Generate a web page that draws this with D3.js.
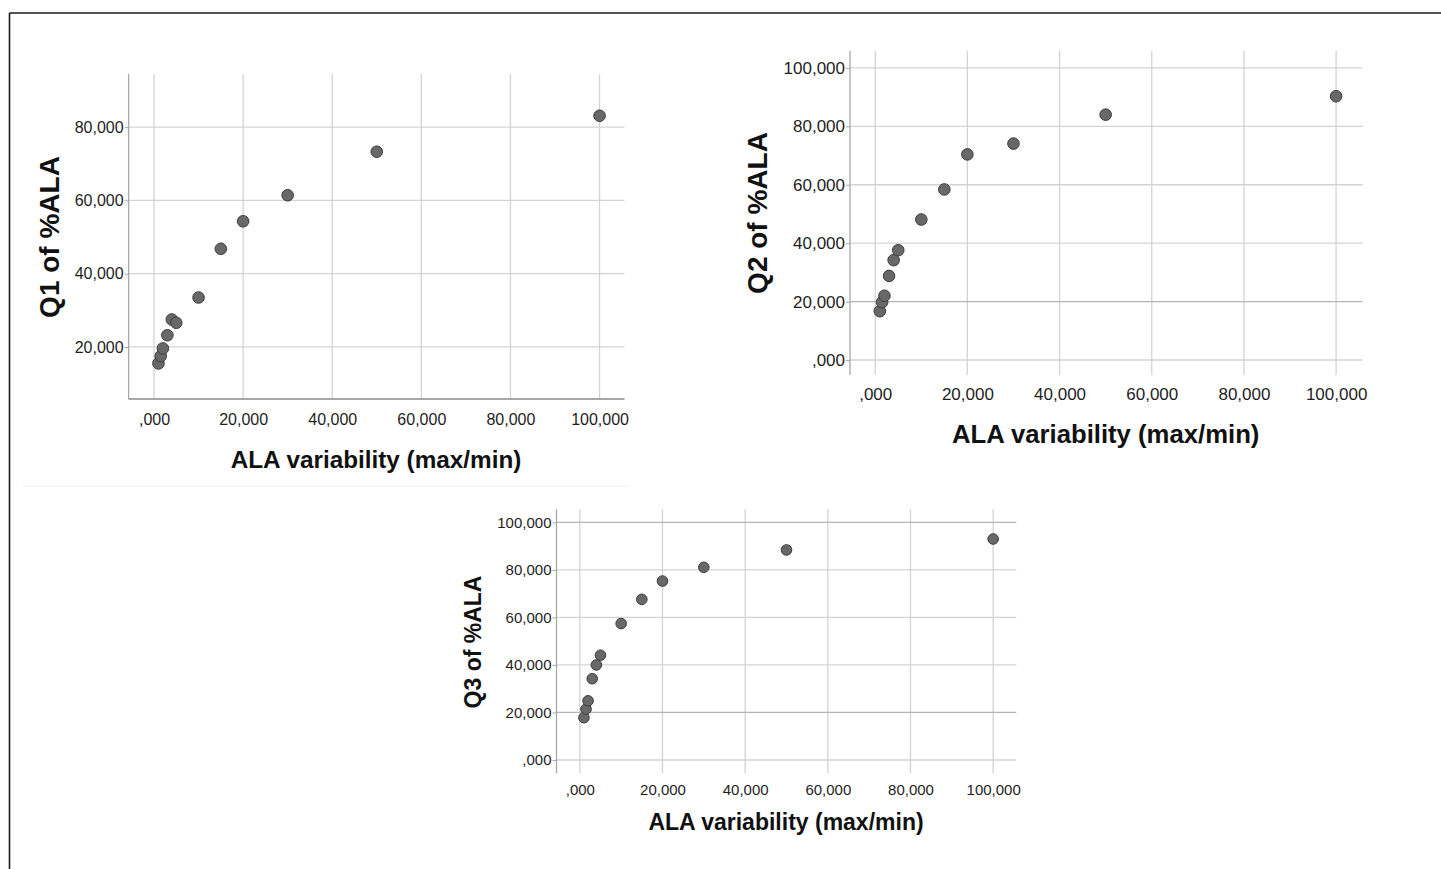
<!DOCTYPE html>
<html>
<head>
<meta charset="utf-8">
<script src="https://cdn.jsdelivr.net/npm/d3@7"></script>
<style>
  body { margin: 0; background: #fff; }
  svg { display: block; }
  text { font-family: "Liberation Sans", Arial, sans-serif; }
</style>
</head>
<body>
<svg id="chart" width="1441" height="869"></svg>
<script>
// ALA variability (max/min) and the three quantiles of %ALA
var variability = [1, 1.5, 2, 3, 4, 5, 10, 15, 20, 30, 50, 100];
var q1 = [15.5, 17.5, 19.6, 23.2, 27.5, 26.6, 33.5, 46.8, 54.3, 61.4, 73.3, 83.1];
var q2 = [16.7, 19.8, 22.0, 28.8, 34.2, 37.6, 48.1, 58.4, 70.4, 74.1, 84.0, 90.3];
var q3 = [17.8, 21.4, 24.9, 34.2, 40.0, 44.1, 57.4, 67.6, 75.3, 81.1, 88.4, 93.0];

var xTicks = [0, 20, 40, 60, 80, 100];
var q1Ticks = [20, 40, 60, 80];
var q2Ticks = [0, 20, 40, 60, 80, 100];
var q3Ticks = [0, 20, 40, 60, 80, 100];

var xTitle = "ALA variability (max/min)";

// SPSS style numbers: ",000", "20,000"
function fmt(v) {
  return v === 0 ? ",000" : v.toFixed(3).replace(".", ",");
}

var svg = d3.select("#chart");

// frame (left and top only)
svg.append("line").attr("x1", 9.5).attr("y1", 13).attr("x2", 1441).attr("y2", 13)
  .attr("stroke", "#1a1a1a").attr("stroke-width", 1.6);
svg.append("line").attr("x1", 9.5).attr("y1", 13).attr("x2", 9.5).attr("y2", 869)
  .attr("stroke", "#1a1a1a").attr("stroke-width", 1.6);

// faint edge under the first panel
svg.append("line").attr("x1", 22).attr("y1", 486).attr("x2", 630).attr("y2", 486)
  .attr("stroke", "#f2f2f2").attr("stroke-width", 1);

var panels = [
  { vals: q1, yTicks: q1Ticks, label: "Q1 of %ALA",
    left: 128.6, right: 624.5, bottom: 399, top: 74,
    xDom: [-5.7, 105.6], yDom: [5.8, 94.5],
    tickFont: 16, xLabelY: 425, xTitleFont: 24.3, xTitleX: 376, xTitleY: 468,
    yTitleFont: 28, yTitleX: 49, yTitleY: 237, r: 5.8, xAxisLine: true, dark: [] },
  { vals: q2, yTicks: q2Ticks, label: "Q2 of %ALA",
    left: 850, right: 1362.6, bottom: 375, top: 50.7,
    xDom: [-5.47, 105.75], yDom: [-5.13, 105.9],
    tickFont: 17, xLabelY: 400, xTitleFont: 25.7, xTitleX: 1105.7, xTitleY: 443,
    yTitleFont: 28, yTitleX: 757, yTitleY: 213, r: 5.8, xAxisLine: false, dark: [20] },
  { vals: q3, yTicks: q3Ticks, label: "Q3 of %ALA",
    left: 556.5, right: 1016.3, bottom: 773.3, top: 509.3,
    xDom: [-5.64, 105.6], yDom: [-5.6, 105.5],
    tickFont: 15, xLabelY: 795, xTitleFont: 23, xTitleX: 786, xTitleY: 830,
    yTitleFont: 23, yTitleX: 473, yTitleY: 642, r: 5.3, xAxisLine: false, dark: [20, 100] }
];

panels.forEach(function(p) {
  var x = d3.scaleLinear().domain(p.xDom).range([p.left, p.right]);
  var y = d3.scaleLinear().domain(p.yDom).range([p.bottom, p.top]);
  var g = svg.append("g");

  // grid
  g.selectAll(".vgrid").data(xTicks).enter().append("line")
    .attr("x1", function(d) { return x(d); }).attr("x2", function(d) { return x(d); })
    .attr("y1", p.top).attr("y2", p.bottom)
    .attr("stroke", "#d3d3d3").attr("stroke-width", 1.3);
  g.selectAll(".hgrid").data(p.yTicks).enter().append("line")
    .attr("x1", p.left).attr("x2", p.right)
    .attr("y1", function(d) { return y(d); }).attr("y2", function(d) { return y(d); })
    .attr("stroke", function(d) { return p.dark.indexOf(d) >= 0 ? "#b4b4b4" : "#d3d3d3"; })
    .attr("stroke-width", 1.3);

  // y axis
  var ya = g.append("g").attr("transform", "translate(" + p.left + ",0)")
    .call(d3.axisLeft(y).tickValues(p.yTicks).tickFormat(fmt).tickSize(4).tickPadding(1).tickSizeOuter(0));
  ya.select(".domain").attr("stroke", "#a8a8a8").attr("stroke-width", 1.3)
    .attr("d", "M0," + p.top + "V" + p.bottom);
  ya.selectAll(".tick line").attr("stroke", "#a8a8a8");
  ya.selectAll("text").attr("font-size", p.tickFont).attr("fill", "#1e1e1e")
    .attr("font-family", "'Liberation Sans', Arial, sans-serif");

  // x axis labels
  var xa = g.append("g").attr("transform", "translate(0," + p.bottom + ")")
    .call(d3.axisBottom(x).tickValues(xTicks).tickFormat(fmt).tickSize(0).tickSizeOuter(0));
  if (p.xAxisLine) {
    xa.select(".domain").attr("stroke", "#8a8a8a").attr("stroke-width", 1.5)
      .attr("d", "M" + p.left + ",0H" + p.right);
  } else {
    xa.select(".domain").remove();
  }
  xa.selectAll("text").attr("font-size", p.tickFont).attr("fill", "#1e1e1e")
    .attr("font-family", "'Liberation Sans', Arial, sans-serif")
    .attr("dy", null).attr("y", p.xLabelY - p.bottom);

  // points
  g.selectAll(".pt").data(variability).enter().append("circle")
    .attr("cx", function(d) { return x(d); })
    .attr("cy", function(d, i) { return y(p.vals[i]); })
    .attr("r", p.r)
    .attr("fill", "#686868").attr("stroke", "#3c3c3c").attr("stroke-width", 1);

  // titles
  g.append("text").attr("x", p.xTitleX).attr("y", p.xTitleY)
    .attr("text-anchor", "middle").attr("font-size", p.xTitleFont)
    .attr("font-weight", "bold").attr("fill", "#111").text(xTitle);
  g.append("text")
    .attr("transform", "translate(" + p.yTitleX + "," + p.yTitleY + ") rotate(-90)")
    .attr("text-anchor", "middle").attr("dy", "0.36em").attr("font-size", p.yTitleFont)
    .attr("font-weight", "bold").attr("fill", "#111").text(p.label);
});
</script>
</body>
</html>
